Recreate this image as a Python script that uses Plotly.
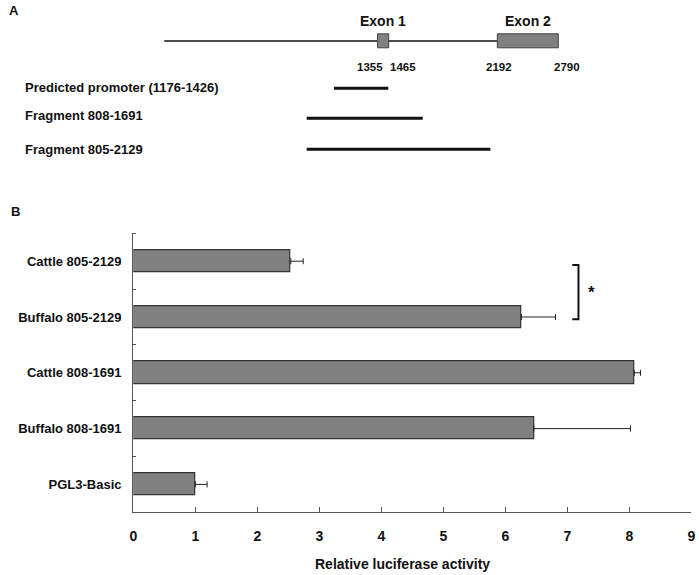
import plotly.graph_objects as go

# ---------------- Panel B data ----------------
categories = ["Cattle 805-2129", "Buffalo 805-2129", "Cattle 808-1691",
              "Buffalo 808-1691", "PGL3-Basic"]
activity = [2.54, 6.26, 8.08, 6.46, 1.00]
activity_err = [0.20, 0.55, 0.10, 1.56, 0.19]
x_ticks = [0, 1, 2, 3, 4, 5, 6, 7, 8, 9]
x_title = "Relative luciferase activity"
signif_pair = [0, 1]          # bracket between first two bars
signif_mark = "*"

# ---------------- Panel A data (schematic, not to scale) ----------------
exon_names = ["Exon 1", "Exon 2"]
exon_bp = [[1355, 1465], [2192, 2790]]
exon_pos = [[377.5, 388.7], [497.3, 558.3]]        # schematic units
bp_label_pos = [370, 403.3, 498.7, 566.7]
gene_line = [164.3, 497.3]
fragment_labels = ["Predicted promoter (1176-1426)", "Fragment 808-1691",
                   "Fragment 805-2129"]
fragment_pos = [[334, 388.3], [306.7, 422.7], [306.7, 490.3]]
fragment_rows = [88.3, 118.3, 149.3]
fragment_label_rows = [87.3, 115.5, 149.0]

FONT = "Liberation Sans, Arial, sans-serif"
W, H = 699, 575
A_BOT = 200       # bottom row of panel A region (px)


def bold(size):
    return dict(family=FONT, size=size, color="#111111", weight="bold")


def px(xp):
    return xp / W


def py(yp):
    return 1 - yp / H


fig = go.Figure()

# ---- bars ----
ypos = list(range(len(categories)))
fig.add_trace(go.Bar(
    x=activity, y=ypos, orientation="h", width=0.4,
    marker=dict(color="#808080", line=dict(color="#333333", width=1.2)),
    error_x=dict(type="data", array=activity_err,
                 arrayminus=[0] * len(activity), symmetric=False,
                 color="#222222", thickness=1, width=3),
    showlegend=False, hoverinfo="skip",
))

# significance bracket
i0, i1 = signif_pair
bx_in, bx_out = 7.08, 7.18
fig.add_trace(go.Scatter(
    x=[bx_in, bx_out, bx_out, bx_in],
    y=[i0 + 0.07, i0 + 0.07, i1 + 0.04, i1 + 0.04],
    mode="lines", line=dict(color="#111111", width=2),
    showlegend=False, hoverinfo="skip", cliponaxis=False,
))
fig.add_annotation(x=7.39, y=(i0 + i1) / 2 + 0.06, xref="x", yref="y",
                   text=signif_mark, showarrow=False, font=bold(17))

# ---- Panel A schematic on its own axes (top region) ----
fig.add_trace(go.Scatter(
    x=gene_line, y=[41, 41], xaxis="x2", yaxis="y2", mode="lines",
    line=dict(color="#111111", width=1.6), showlegend=False, hoverinfo="skip"))
for (a, b), name in zip(exon_pos, exon_names):
    fig.add_shape(type="rect", xref="x2", yref="y2", x0=a, x1=b, y0=33.8, y1=47.8,
                  fillcolor="#808080", line=dict(color="#444444", width=1))
    fig.add_annotation(x=(a + b) / 2, y=20.7, xref="x2", yref="y2", text=name,
                       showarrow=False, font=bold(14))
bp_flat = [v for pair in exon_bp for v in pair]
for xp, bp in zip(bp_label_pos, bp_flat):
    fig.add_annotation(x=xp, y=66.7, xref="x2", yref="y2", text=str(bp),
                       showarrow=False, font=bold(11.5))
for (a, b), ry, ly, lab in zip(fragment_pos, fragment_rows, fragment_label_rows,
                               fragment_labels):
    fig.add_trace(go.Scatter(
        x=[a, b], y=[ry, ry], xaxis="x2", yaxis="y2", mode="lines",
        line=dict(color="#111111", width=3), showlegend=False, hoverinfo="skip"))
    fig.add_annotation(x=23.3, y=ly, xref="x2", yref="y2", text=lab,
                       showarrow=False, xanchor="left", font=bold(13))

# panel letters and x title (paper coordinates)
for xx, yy, txt, sz in [(14, 11, "A", 13), (15, 211.7, "B", 13),
                        (402.5, 564, x_title, 14)]:
    fig.add_annotation(x=px(xx), y=py(yy), xref="paper", yref="paper", text=txt,
                       showarrow=False, xanchor="center", yanchor="middle",
                       font=bold(sz))

fig.update_layout(
    width=W, height=H, margin=dict(l=0, r=0, t=0, b=0, pad=0),
    paper_bgcolor="white", plot_bgcolor="rgba(0,0,0,0)",
    font=dict(family=FONT, color="#111111"),
    bargap=0,
    xaxis=dict(domain=[px(133.3), px(691.3)], range=[0, 9], tickvals=x_ticks,
               showline=True, linecolor="#555555", linewidth=1.3,
               ticks="inside", ticklen=5, tickcolor="#555555", tickwidth=1.3,
               showgrid=False, zeroline=False, ticklabelstandoff=11,
               automargin=False, anchor="y", tickfont=bold(14)),
    yaxis=dict(domain=[py(512.3), py(233.3)], range=[4.5, -0.5], tickvals=ypos,
               ticktext=categories, ticks="",
               showline=True, linecolor="#555555", linewidth=1.3,
               showgrid=False, zeroline=False, ticklabelstandoff=8,
               automargin=False, anchor="x",
               minor=dict(tickvals=[-0.5, 0.5, 1.5, 2.5, 3.5], ticks="inside",
                          ticklen=3, tickcolor="#555555", tickwidth=1.3,
                          showgrid=False),
               tickfont=bold(13)),
    xaxis2=dict(domain=[0, 1], range=[0, W], visible=False, anchor="y2",
                automargin=False),
    yaxis2=dict(domain=[py(A_BOT), 1], range=[A_BOT, 0], visible=False,
                anchor="x2", automargin=False),
)

fig.write_html(
    "out.html",
    config={"displayModeBar": False},
    post_script="document.body.style.margin='0';"
                "document.body.style.overflow='hidden';",
)
